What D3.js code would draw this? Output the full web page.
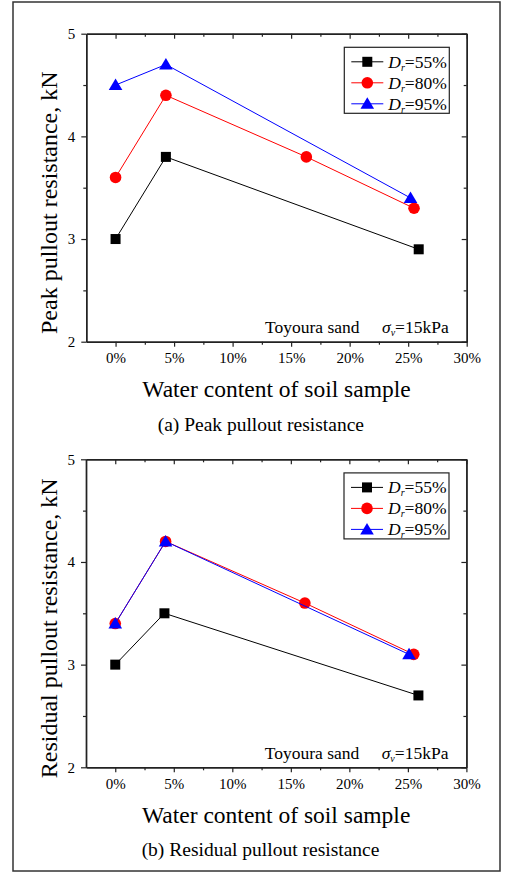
<!DOCTYPE html>
<html>
<head>
<meta charset="utf-8">
<script src="https://cdn.jsdelivr.net/npm/d3@7"></script>
<style>
body { margin: 0; background: #fff; }
svg text { font-family: "Liberation Serif", "Times New Roman", serif; fill: #000; }
</style>
</head>
<body>
<div id="chart"></div>
<script>
// tick values
const xTicks = [0, 5, 10, 15, 20, 25, 30]
const xMinor = [2.5, 7.5, 12.5, 17.5, 22.5, 27.5]
const yTicks = [2, 3, 4, 5]
const yMinor = [2.5, 3.5, 4.5]

const densities = ["55%", "80%", "95%"]
const colors = ["#000000", "#ff0000", "#0000ff"]
const markers = ["square", "circle", "triangle"]

// [water content %, resistance kN]
const peak55 = [[0, 3.0], [4.3, 3.8], [25.9, 2.9]]
const peak80 = [[0, 3.6], [4.3, 4.4], [16.3, 3.8], [25.5, 3.3]]
const peak95 = [[0, 4.5], [4.3, 4.7], [25.2, 3.4]]

const resid55 = [[0, 3.0], [4.2, 3.5], [25.9, 2.7]]
const resid80 = [[0, 3.4], [4.3, 4.2], [16.2, 3.6], [25.5, 3.1]]
const resid95 = [[0, 3.4], [4.3, 4.2], [25.1, 3.1]]

const width = 510
const height = 873

const svg = d3.select('#chart')
	.append('svg')
	.attr('width', width)
	.attr('height', height)

// outer frame
svg.append('rect')
	.attr('x', 13).attr('y', 2)
	.attr('width', 487).attr('height', 869)
	.attr('fill', 'none')
	.attr('stroke', '#333')
	.attr('stroke-width', 1.5)

function drawMarker(g, type, cx, cy, color) {
	if (type === 'square') {
		g.append('rect')
			.attr('x', cx - 5).attr('y', cy - 5)
			.attr('width', 10).attr('height', 10)
			.attr('fill', color)
	} else if (type === 'circle') {
		g.append('circle')
			.attr('cx', cx).attr('cy', cy).attr('r', 5.8)
			.attr('fill', color)
	} else {
		g.append('path')
			.attr('d', `M${cx},${cy - 6.5} L${cx + 6.8},${cy + 5} L${cx - 6.8},${cy + 5} Z`)
			.attr('fill', color)
	}
}

function panel(top, left, yTitle, caption, series) {
	const w = 380.4
	const h = 308
	const g = svg.append('g').attr('transform', `translate(${left},${top})`)

	const x = d3.scaleLinear().domain([-2.5, 30]).range([0, w])
	const y = d3.scaleLinear().domain([2, 5]).range([h, 0])

	// axes
	const bottom = g.append('g').attr('transform', `translate(0,${h})`)
	bottom.call(d3.axisBottom(x).tickValues(xTicks).tickSize(5).tickSizeOuter(0)
		.tickPadding(6).tickFormat(d => d + '%'))
	bottom.append('g').call(d3.axisBottom(x).tickValues(xMinor).tickSize(3).tickSizeOuter(0).tickFormat(''))

	const leftAx = g.append('g')
	leftAx.call(d3.axisLeft(y).tickValues(yTicks).tickSize(5).tickSizeOuter(0)
		.tickPadding(6).tickFormat(d => d))
	leftAx.append('g').call(d3.axisLeft(y).tickValues(yMinor).tickSize(3).tickSizeOuter(0).tickFormat(''))

	const topAx = g.append('g')
	topAx.call(d3.axisTop(x).tickValues(xTicks).tickSize(-5).tickSizeOuter(0).tickFormat(''))
	topAx.append('g').call(d3.axisTop(x).tickValues(xMinor).tickSize(-3).tickSizeOuter(0).tickFormat(''))

	const rightAx = g.append('g').attr('transform', `translate(${w},0)`)
	rightAx.call(d3.axisRight(y).tickValues(yTicks).tickSize(-5).tickSizeOuter(0).tickFormat(''))
	rightAx.append('g').call(d3.axisRight(y).tickValues(yMinor).tickSize(-3).tickSizeOuter(0).tickFormat(''))

	g.selectAll('.domain').attr('stroke', '#222').attr('stroke-width', 1.4)
	g.selectAll('.tick line').attr('stroke', '#222').attr('stroke-width', 1.2)
	g.selectAll('.tick text')
		.attr('font-family', '"Liberation Serif", serif')
		.attr('font-size', 15)

	// lines and markers
	const line = d3.line().x(d => x(d[0])).y(d => y(d[1]))
	series.forEach((s, i) => {
		g.append('path')
			.attr('d', line(s))
			.attr('fill', 'none')
			.attr('stroke', colors[i])
			.attr('stroke-width', 1)
		const mg = g.append('g')
		s.forEach(d => drawMarker(mg, markers[i], x(d[0]), y(d[1]), colors[i]))
	})

	// legend
	const lg = g.append('g').attr('transform', 'translate(258,13.6)')
	lg.append('rect')
		.attr('width', 105).attr('height', 66)
		.attr('fill', 'white')
		.attr('stroke', '#222').attr('stroke-width', 1.2)
	densities.forEach((dn, i) => {
		const ly = 14.5 + i * 21
		lg.append('line')
			.attr('x1', 7).attr('x2', 39)
			.attr('y1', ly).attr('y2', ly)
			.attr('stroke', colors[i]).attr('stroke-width', 1)
		drawMarker(lg, markers[i], 23, ly, colors[i])
		const t = lg.append('text')
			.attr('x', 44).attr('y', ly + 6)
			.attr('font-size', 17.5)
		t.append('tspan').attr('font-style', 'italic').text('D')
		t.append('tspan').attr('font-style', 'italic').attr('font-size', 10).attr('dy', 3).text('r')
		t.append('tspan').attr('dy', -3).text('=' + dn)
	})

	// annotation
	g.append('text')
		.attr('x', 178.7).attr('y', h - 8.5)
		.attr('font-size', 17.5)
		.text('Toyoura sand')
	const sig = g.append('text')
		.attr('x', 295.7).attr('y', h - 8.5)
		.attr('font-size', 17.5)
	sig.append('tspan').attr('font-style', 'italic').text('σ')
	sig.append('tspan').attr('font-style', 'italic').attr('font-size', 10).attr('dy', 3).text('v')
	sig.append('tspan').attr('dy', -3).text('=15kPa')

	// titles
	g.append('text')
		.attr('transform', `translate(-29.5,${h / 2 + 15}) rotate(-90)`)
		.attr('text-anchor', 'middle')
		.attr('font-size', 24)
		.text(yTitle)
	g.append('text')
		.attr('x', w / 2).attr('y', h + 55.5)
		.attr('text-anchor', 'middle')
		.attr('font-size', 23.5)
		.text('Water content of soil sample')
	g.append('text')
		.attr('x', 174.5).attr('y', h + 89)
		.attr('text-anchor', 'middle')
		.attr('font-size', 19.5)
		.text(caption)
}

panel(33.7, 86.3, 'Peak pullout resistance, kN', '(a) Peak pullout resistance', [peak55, peak80, peak95])
panel(459.3, 86, 'Residual pullout resistance, kN', '(b) Residual pullout resistance', [resid55, resid80, resid95])
</script>
</body>
</html>
